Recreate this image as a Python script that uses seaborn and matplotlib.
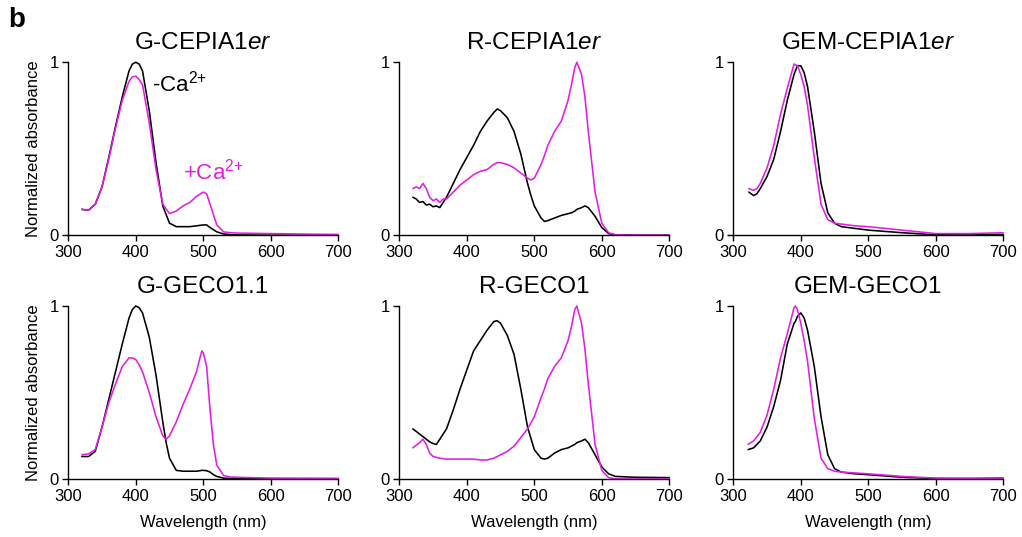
import numpy as np
import pandas as pd
import matplotlib
matplotlib.use('Agg')
import matplotlib.pyplot as plt
import seaborn as sns

# ---- data (normalized absorbance vs wavelength, nm) ----
gcepia_wl    = [320, 330, 340, 350, 360, 370, 380, 390, 395, 400, 405, 410, 420, 430, 440, 450, 460, 470, 480, 490, 500, 505, 510, 520, 530, 540, 550, 600, 650, 700]
gcepia_minus = [0.15, 0.145, 0.18, 0.28, 0.45, 0.63, 0.80, 0.95, 0.99, 1.00, 0.99, 0.95, 0.72, 0.42, 0.17, 0.07, 0.05, 0.05, 0.05, 0.055, 0.06, 0.06, 0.045, 0.02, 0.008, 0.004, 0.002, 0.001, 0.001, 0.001]
gcepia_plus  = [0.15, 0.145, 0.18, 0.28, 0.44, 0.62, 0.78, 0.89, 0.915, 0.92, 0.90, 0.87, 0.65, 0.38, 0.18, 0.125, 0.14, 0.17, 0.19, 0.225, 0.25, 0.24, 0.18, 0.06, 0.02, 0.015, 0.013, 0.01, 0.007, 0.005]

rcepia_wl    = [320, 325, 330, 335, 340, 345, 350, 355, 360, 365, 370, 380, 390, 400, 410, 420, 430, 440, 445, 450, 460, 470, 480, 490, 495, 500, 510, 515, 520, 530, 540, 550, 555, 560, 563, 570, 575, 580, 590, 600, 610, 620, 650, 700]
rcepia_minus = [0.22, 0.21, 0.19, 0.195, 0.175, 0.18, 0.165, 0.17, 0.16, 0.19, 0.22, 0.30, 0.38, 0.45, 0.52, 0.60, 0.66, 0.71, 0.73, 0.72, 0.68, 0.60, 0.47, 0.30, 0.23, 0.17, 0.10, 0.08, 0.085, 0.10, 0.115, 0.125, 0.13, 0.14, 0.15, 0.16, 0.17, 0.16, 0.11, 0.045, 0.01, 0.003, 0.001, 0.001]
rcepia_plus  = [0.27, 0.28, 0.27, 0.30, 0.27, 0.22, 0.20, 0.21, 0.19, 0.21, 0.21, 0.25, 0.29, 0.32, 0.35, 0.37, 0.38, 0.41, 0.42, 0.42, 0.41, 0.39, 0.36, 0.33, 0.32, 0.33, 0.41, 0.46, 0.52, 0.60, 0.66, 0.78, 0.87, 0.97, 1.00, 0.93, 0.80, 0.60, 0.25, 0.07, 0.015, 0.003, 0.001, 0.001]

gemcepia_wl    = [323, 330, 335, 340, 350, 360, 370, 380, 390, 395, 400, 405, 410, 420, 430, 440, 450, 460, 480, 500, 550, 600, 650, 700]
gemcepia_minus = [0.25, 0.23, 0.24, 0.27, 0.34, 0.44, 0.60, 0.78, 0.93, 0.98, 0.98, 0.94, 0.86, 0.60, 0.30, 0.13, 0.07, 0.05, 0.04, 0.03, 0.015, 0.003, 0.002, 0.005]
gemcepia_plus  = [0.27, 0.26, 0.27, 0.30, 0.39, 0.52, 0.70, 0.85, 0.99, 0.98, 0.93, 0.86, 0.75, 0.45, 0.18, 0.09, 0.07, 0.065, 0.055, 0.05, 0.03, 0.01, 0.01, 0.015]

ggeco_wl    = [320, 330, 340, 350, 360, 370, 380, 390, 395, 400, 405, 410, 420, 430, 440, 445, 450, 460, 470, 480, 490, 495, 498, 500, 505, 510, 515, 520, 530, 540, 550, 600, 700]
ggeco_minus = [0.13, 0.13, 0.16, 0.30, 0.46, 0.62, 0.78, 0.93, 0.98, 1.00, 0.99, 0.96, 0.82, 0.60, 0.33, 0.21, 0.12, 0.05, 0.045, 0.045, 0.045, 0.048, 0.05, 0.05, 0.048, 0.04, 0.025, 0.015, 0.005, 0.003, 0.003, 0.002, 0.002]
ggeco_plus  = [0.14, 0.145, 0.17, 0.30, 0.44, 0.55, 0.65, 0.70, 0.70, 0.69, 0.66, 0.62, 0.50, 0.36, 0.25, 0.23, 0.25, 0.33, 0.43, 0.52, 0.62, 0.70, 0.74, 0.73, 0.65, 0.40, 0.20, 0.08, 0.02, 0.012, 0.01, 0.005, 0.003]

rgeco_wl    = [320, 330, 335, 340, 345, 350, 355, 360, 370, 380, 390, 400, 410, 420, 430, 440, 445, 450, 460, 470, 480, 490, 500, 510, 515, 520, 530, 540, 550, 555, 560, 563, 570, 575, 580, 590, 600, 610, 620, 650, 700]
rgeco_minus = [0.29, 0.26, 0.245, 0.23, 0.215, 0.205, 0.20, 0.23, 0.29, 0.40, 0.52, 0.63, 0.74, 0.80, 0.86, 0.91, 0.915, 0.90, 0.83, 0.72, 0.52, 0.30, 0.17, 0.12, 0.115, 0.12, 0.15, 0.17, 0.18, 0.19, 0.20, 0.21, 0.22, 0.23, 0.21, 0.14, 0.07, 0.03, 0.015, 0.01, 0.008]
rgeco_plus  = [0.18, 0.21, 0.23, 0.20, 0.15, 0.13, 0.125, 0.12, 0.115, 0.115, 0.115, 0.115, 0.115, 0.11, 0.11, 0.12, 0.13, 0.14, 0.16, 0.19, 0.24, 0.29, 0.36, 0.47, 0.52, 0.58, 0.65, 0.70, 0.80, 0.88, 0.98, 1.00, 0.90, 0.75, 0.55, 0.20, 0.05, 0.008, 0.001, 0.0, 0.0]

gemgeco_wl    = [322, 330, 340, 350, 360, 370, 380, 390, 392, 395, 400, 405, 410, 420, 430, 440, 450, 460, 480, 500, 550, 600, 650, 700]
gemgeco_minus = [0.17, 0.18, 0.22, 0.30, 0.42, 0.57, 0.78, 0.90, 0.91, 0.94, 0.96, 0.93, 0.86, 0.65, 0.36, 0.14, 0.06, 0.04, 0.03, 0.025, 0.01, 0.003, 0.003, 0.005]
gemgeco_plus  = [0.20, 0.22, 0.27, 0.37, 0.52, 0.70, 0.84, 0.99, 1.00, 0.98, 0.90, 0.80, 0.68, 0.35, 0.12, 0.06, 0.045, 0.04, 0.035, 0.03, 0.015, 0.005, 0.003, 0.003]

panels = [
    ('G-CEPIA1$\\it{er}$', gcepia_wl, gcepia_minus, gcepia_plus),
    ('R-CEPIA1$\\it{er}$', rcepia_wl, rcepia_minus, rcepia_plus),
    ('GEM-CEPIA1$\\it{er}$', gemcepia_wl, gemcepia_minus, gemcepia_plus),
    ('G-GECO1.1', ggeco_wl, ggeco_minus, ggeco_plus),
    ('R-GECO1', rgeco_wl, rgeco_minus, rgeco_plus),
    ('GEM-GECO1', gemgeco_wl, gemgeco_minus, gemgeco_plus),
]

sns.set_style('ticks')
plt.rcParams['font.family'] = ['Liberation Sans', 'DejaVu Sans']
plt.rcParams['mathtext.fontset'] = 'custom'
plt.rcParams['mathtext.rm'] = 'Liberation Sans'
plt.rcParams['mathtext.it'] = 'Liberation Sans:italic'
plt.rcParams['text.color'] = 'black'
plt.rcParams['axes.labelcolor'] = 'black'

MAGENTA = '#e41ce4'

fig = plt.figure(figsize=(10.22, 5.37), dpi=100)
lefts = [0.0668, 0.3907, 0.7175]
bottoms = [0.5618, 0.1080]
W, H = 0.2642, 0.3222

for i, (title, wl, minus, plus) in enumerate(panels):
    r, c = divmod(i, 3)
    ax = fig.add_axes([lefts[c], bottoms[r], W, H])
    df = pd.DataFrame({'wl': wl, 'minus': minus, 'plus': plus})
    sns.lineplot(data=df, x='wl', y='minus', ax=ax, color='black', lw=1.15, clip_on=False)
    sns.lineplot(data=df, x='wl', y='plus', ax=ax, color=MAGENTA, lw=1.15, clip_on=False)
    ax.set_xlim(300, 700)
    ax.set_ylim(0, 1)
    ax.set_xticks([300, 400, 500, 600, 700])
    ax.set_yticks([0, 1])
    ax.set_yticklabels(['0', '1'])
    ax.tick_params(labelsize=12, length=4, width=1, pad=3, colors='black')
    for s in ['top', 'right']:
        ax.spines[s].set_visible(False)
    for s in ['left', 'bottom']:
        ax.spines[s].set_linewidth(1)
        ax.spines[s].set_color('black')
    ax.set_title(title, fontsize=17.5, pad=9.5, color='black')
    ax.set_ylabel('Normalized absorbance' if c == 0 else '', fontsize=12, labelpad=6)
    ax.set_xlabel('Wavelength (nm)' if r == 1 else '', fontsize=12, labelpad=8)
    if i == 0:
        ax.text(424, 0.88, '-Ca$^{2{+}}$', fontsize=16, color='black', va='center')
        ax.text(470, 0.37, '+Ca$^{2{+}}$', fontsize=16, color=MAGENTA, va='center')

fig.text(0.008, 0.962, 'b', fontsize=20, fontweight='bold', va='center')

fig.savefig('out.png', dpi=100)
